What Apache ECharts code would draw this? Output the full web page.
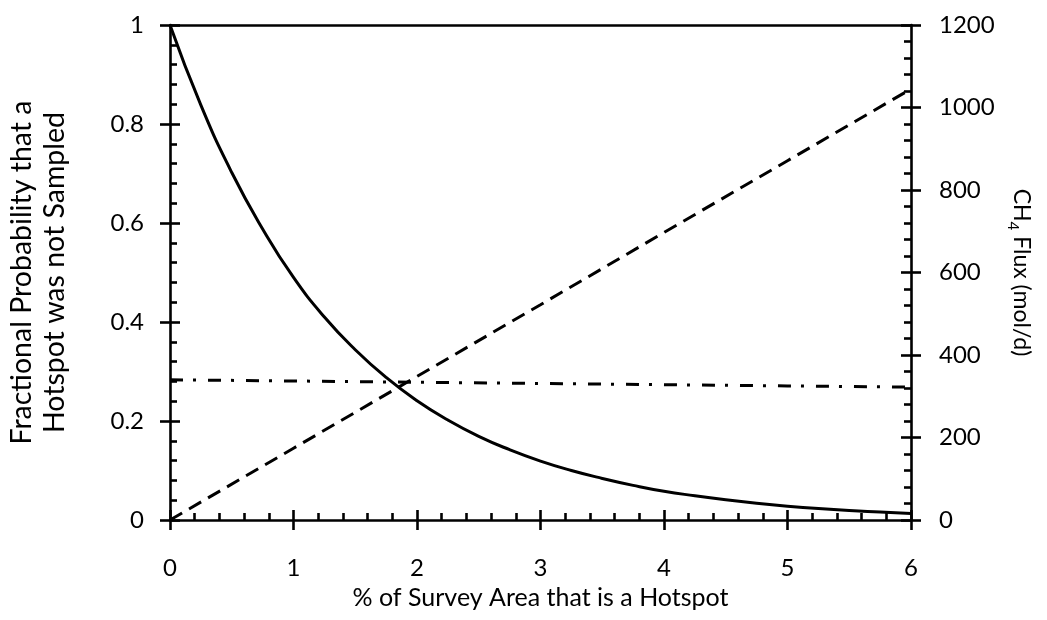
<!DOCTYPE html>
<html>
<head>
<meta charset="utf-8">
<script src="https://cdn.jsdelivr.net/npm/echarts@6/dist/echarts.min.js"></script>
<style>
  html, body { margin: 0; padding: 0; background: #fff; }
  #chart { width: 1047px; height: 620px; }
</style>
</head>
<body>
<div id="chart"></div>
<script>
// Hotspot share of the survey area (%)
const hotspotPct = [0, 0.25, 0.5, 0.75, 1, 1.25, 1.5, 1.75, 2, 2.25, 2.5, 2.75, 3,
  3.25, 3.5, 3.75, 4, 4.25, 4.5, 4.75, 5, 5.25, 5.5, 5.75, 6];
// Fractional probability that a hotspot was not sampled (left axis)
const probNotSampled = [1.0, 0.838, 0.702, 0.588, 0.49, 0.41, 0.344, 0.288, 0.241, 0.202, 0.169,
  0.142, 0.119, 0.1, 0.084, 0.07, 0.058, 0.049, 0.041, 0.034, 0.028, 0.023, 0.019, 0.016, 0.013];
// CH4 flux series (right axis)
const fluxPct = [0, 1, 2, 3, 4, 5, 6];
const fluxHotspot = [0, 174, 348, 522, 697, 871, 1045];
const fluxBaseline = [340, 337, 334, 331, 328, 325, 322];
// Tick labels
const xTicks = ['0', '1', '2', '3', '4', '5', '6'];
const leftTicks = ['0', '0.2', '0.4', '0.6', '0.8', '1'];
const rightTicks = ['0', '200', '400', '600', '800', '1000', '1200'];

const FONT = 'Lato';
const TICK_FS = 24;
const INK = '#000';
const lw = 2.6;

const chart = echarts.init(document.getElementById('chart'), null, { renderer: 'canvas' });

function fmt(list, step) {
  return function (v) {
    const i = Math.round(v / step);
    return list[i] !== undefined ? list[i] : '';
  };
}

const plot = { left: 170, right: 136, top: 25, bottom: 100, containLabel: false, outerBoundsMode: 'none' };
const axisLine = { show: true, onZero: false, lineStyle: { color: INK, width: lw } };
const noLine = { show: false, onZero: false };
const outTicks = { show: true, inside: false, length: 10, lineStyle: { color: INK, width: lw } };
const inTicks = { show: true, inside: true, length: 10, lineStyle: { color: INK, width: lw } };
const inMinor = { show: true, splitNumber: 5, length: 7, lineStyle: { color: INK, width: lw } };
const noLabel = { show: false };
const noSplit = { show: false };

const option = {
  backgroundColor: '#fff',
  animation: false,
  // grid 0 carries the labelled axes, grid 1 (same box) the inward ticks
  grid: [Object.assign({}, plot), Object.assign({}, plot)],
  xAxis: [
    {
      gridIndex: 0, type: 'value', position: 'bottom', min: 0, max: 6, interval: 1,
      axisLine: axisLine, axisTick: outTicks,
      axisLabel: { show: true, margin: 36, fontFamily: FONT, fontSize: TICK_FS, color: INK,
        formatter: fmt(xTicks, 1) },
      splitLine: noSplit,
      name: '% of Survey Area that is a Hotspot', nameLocation: 'middle', nameGap: 65,
      nameTextStyle: { fontFamily: FONT, fontSize: 25, color: INK }
    },
    {
      // top border of the plot
      gridIndex: 0, type: 'value', position: 'top', min: 0, max: 6, interval: 1,
      axisLine: axisLine, axisTick: { show: false }, axisLabel: noLabel, splitLine: noSplit
    },
    {
      gridIndex: 1, type: 'value', position: 'bottom', min: 0, max: 6, interval: 1,
      axisLine: noLine, axisTick: inTicks, minorTick: inMinor,
      axisLabel: noLabel, splitLine: noSplit
    }
  ],
  yAxis: [
    {
      gridIndex: 0, type: 'value', position: 'left', min: 0, max: 1, interval: 0.2,
      axisLine: axisLine, axisTick: outTicks,
      axisLabel: { show: true, margin: 26, fontFamily: FONT, fontSize: TICK_FS, color: INK,
        formatter: fmt(leftTicks, 0.2) },
      splitLine: noSplit,
      name: 'Fractional Probability that a\nHotspot was not Sampled',
      nameLocation: 'middle', nameGap: 99, nameRotate: 90,
      nameTextStyle: { fontFamily: FONT, fontSize: 28.5, color: INK, lineHeight: 33, align: 'center' }
    },
    {
      gridIndex: 0, type: 'value', position: 'right', min: 0, max: 1200, interval: 200,
      axisLine: axisLine, axisTick: outTicks,
      axisLabel: { show: true, margin: 28, fontFamily: FONT, fontSize: TICK_FS, color: INK,
        formatter: fmt(rightTicks, 200) },
      splitLine: noSplit,
      name: '{a|CH}{s|4}{a| Flux (mol/d)}',
      nameLocation: 'middle', nameGap: 90, nameRotate: -90,
      nameTextStyle: {
        fontFamily: FONT, fontSize: 23, color: INK,
        rich: {
          a: { fontFamily: FONT, fontSize: 23, color: INK, lineHeight: 28, verticalAlign: 'bottom' },
          s: { fontFamily: FONT, fontSize: 15, color: INK, lineHeight: 28, verticalAlign: 'bottom',
               padding: [0, 0, -4, 0] }
        }
      }
    },
    {
      gridIndex: 1, type: 'value', position: 'left', min: 0, max: 1, interval: 0.2,
      axisLine: noLine, axisTick: inTicks, minorTick: inMinor,
      axisLabel: noLabel, splitLine: noSplit
    },
    {
      gridIndex: 1, type: 'value', position: 'right', min: 0, max: 1200, interval: 200,
      axisLine: noLine, axisTick: inTicks, minorTick: inMinor,
      axisLabel: noLabel, splitLine: noSplit
    }
  ],
  series: [
    {
      name: 'Probability', type: 'line', xAxisIndex: 0, yAxisIndex: 0,
      data: hotspotPct.map((x, i) => [x, probNotSampled[i]]),
      smooth: true, showSymbol: false,
      lineStyle: { color: INK, width: 3 }, z: 3
    },
    {
      name: 'Hotspot flux', type: 'line', xAxisIndex: 0, yAxisIndex: 1,
      data: fluxPct.map((x, i) => [x, fluxHotspot[i]]),
      showSymbol: false,
      lineStyle: { color: INK, width: 3, type: [14, 8] }, z: 3
    },
    {
      name: 'Baseline flux', type: 'line', xAxisIndex: 0, yAxisIndex: 1,
      data: fluxPct.map((x, i) => [x, fluxBaseline[i]]),
      showSymbol: false,
      lineStyle: { color: INK, width: 3, type: [13, 10, 3, 12] }, z: 3
    }
  ]
};

chart.setOption(option);
</script>
</body>
</html>
